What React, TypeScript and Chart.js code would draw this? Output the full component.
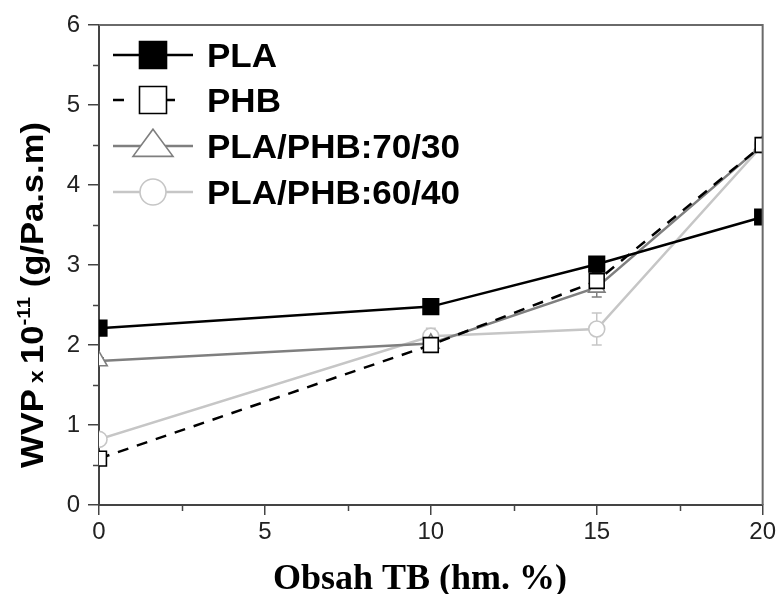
import React, { useEffect, useRef } from "react";
import { Chart, registerables } from "chart.js";

Chart.register(...registerables);

// ---- data ----
const xValues = [0, 10, 15, 20];
const plaValues = [2.21, 2.48, 3.01, 3.6];
const phbValues = [0.58, 2.0, 2.8, 4.5];
const blend7030Values = [1.8, 2.02, 2.72, 4.5];
const blend6040Values = [0.82, 2.11, 2.2, 4.5];
const plaErrors = [0.04, 0.05, 0.05, 0.05];
const phbErrors = [0.04, 0.05, 0.1, 0.05];
const blend7030Errors = [0.04, 0.08, 0.12, 0.05];
const blend6040Errors = [0.04, 0.1, 0.2, 0.05];
const seriesLabels = ["PLA", "PHB", "PLA/PHB:70/30", "PLA/PHB:60/40"];
const xTickValues = [0, 5, 10, 15, 20];
const xMinorTicks = [2.5, 7.5, 12.5, 17.5];
const yMinorTicks = [0.5, 1.5, 2.5, 3.5, 4.5, 5.5];
const xTitle = "Obsah TB (hm. %)";

const colors = ["#000000", "#000000", "#7f7f7f", "#c6c6c6"];
const dashes: number[][] = [[], [11, 9], [], []];
const pointStyles = ["rect", "rect", "triangle", "circle"];
const pointFills = ["#000000", "#ffffff", "#ffffff", "#ffffff"];
const pointRadii = [11, 10.5, 9.5, 8];
const errorSets = [plaErrors, phbErrors, blend7030Errors, blend6040Errors];
const valueSets = [plaValues, phbValues, blend7030Values, blend6040Values];

function drawMarker(ctx: CanvasRenderingContext2D, style: string, cx: number, cy: number, s: number, fill: string, stroke: string) {
  ctx.save();
  ctx.fillStyle = fill;
  ctx.strokeStyle = stroke;
  ctx.lineWidth = 1.6;
  ctx.setLineDash([]);
  ctx.beginPath();
  if (style === "rect") {
    ctx.rect(cx - s, cy - s, 2 * s, 2 * s);
  } else if (style === "triangle") {
    ctx.moveTo(cx, cy - s * 1.05);
    ctx.lineTo(cx + s * 1.25, cy + s * 0.65);
    ctx.lineTo(cx - s * 1.25, cy + s * 0.65);
    ctx.closePath();
  } else {
    ctx.arc(cx, cy, s, 0, Math.PI * 2);
  }
  ctx.fill();
  ctx.stroke();
  ctx.restore();
}

const decorPlugin = {
  id: "decor",
  beforeDatasetsDraw(chart: any) {
    const { ctx, chartArea } = chart;
    const xs = chart.scales.x;
    const ys = chart.scales.y;
    ctx.save();
    ctx.beginPath();
    ctx.rect(chartArea.left, chartArea.top, chartArea.right - chartArea.left, chartArea.bottom - chartArea.top);
    ctx.clip();
    errorSets.forEach((errs, i) => {
      ctx.strokeStyle = colors[i];
      ctx.lineWidth = 1.5;
      ctx.setLineDash([]);
      errs.forEach((e, j) => {
        const px = xs.getPixelForValue(xValues[j]);
        const top = ys.getPixelForValue(valueSets[i][j] + e);
        const bot = ys.getPixelForValue(valueSets[i][j] - e);
        ctx.beginPath();
        ctx.moveTo(px, top);
        ctx.lineTo(px, bot);
        ctx.moveTo(px - 5, top);
        ctx.lineTo(px + 5, top);
        ctx.moveTo(px - 5, bot);
        ctx.lineTo(px + 5, bot);
        ctx.stroke();
      });
    });
    ctx.restore();
  },
  afterDraw(chart: any) {
    const { ctx, chartArea } = chart;
    const xs = chart.scales.x;
    const ys = chart.scales.y;
    ctx.save();
    // top and right frame
    ctx.strokeStyle = "#6a6a6a";
    ctx.lineWidth = 2;
    ctx.beginPath();
    ctx.moveTo(chartArea.left, chartArea.top);
    ctx.lineTo(chartArea.right, chartArea.top);
    ctx.lineTo(chartArea.right, chartArea.bottom);
    ctx.stroke();
    // minor ticks
    ctx.strokeStyle = "#444";
    ctx.lineWidth = 1.5;
    ctx.beginPath();
    xMinorTicks.forEach((v) => {
      const px = Math.round(xs.getPixelForValue(v)) + 0.5;
      ctx.moveTo(px, chartArea.bottom);
      ctx.lineTo(px, chartArea.bottom + 6);
    });
    yMinorTicks.forEach((v) => {
      const py = Math.round(ys.getPixelForValue(v)) + 0.5;
      ctx.moveTo(chartArea.left, py);
      ctx.lineTo(chartArea.left - 6, py);
    });
    ctx.stroke();

    // legend
    const rows = [55, 100, 146, 192];
    ctx.font = "bold 33px 'Liberation Sans', Arial, sans-serif";
    const longest = ctx.measureText(seriesLabels[2]).width;
    const tScale = 253 / longest;
    seriesLabels.forEach((label, i) => {
      const cy = rows[i];
      ctx.strokeStyle = colors[i];
      ctx.lineWidth = 2.5;
      ctx.setLineDash([]);
      ctx.beginPath();
      if (i === 1) {
        ctx.moveTo(113, cy);
        ctx.lineTo(124, cy);
        ctx.moveTo(140, cy);
        ctx.lineTo(175, cy);
      } else {
        ctx.moveTo(113, cy);
        ctx.lineTo(193, cy);
      }
      ctx.stroke();
      const ms = pointStyles[i] === "rect" ? 13.5 : pointStyles[i] === "triangle" ? 16 : 13;
      drawMarker(ctx, pointStyles[i], 153, cy, ms, pointFills[i], colors[i]);
      ctx.save();
      ctx.translate(207, cy + 11.7);
      ctx.scale(tScale, 1);
      ctx.fillStyle = "#000";
      ctx.textAlign = "left";
      ctx.textBaseline = "alphabetic";
      ctx.fillText(label, 0, 0);
      ctx.restore();
    });

    // x title
    ctx.fillStyle = "#000";
    ctx.font = "bold 36px 'Liberation Serif', 'Times New Roman', serif";
    ctx.textAlign = "center";
    ctx.textBaseline = "alphabetic";
    ctx.fillText(xTitle, 420, 589);

    // y title (rotated, with superscript)
    const big = "bold 32px 'Liberation Sans', Arial, sans-serif";
    const mid = "bold 21px 'Liberation Sans', Arial, sans-serif";
    const sup = "bold 19px 'Liberation Sans', Arial, sans-serif";
    const segs: { t: string; f: string; dy: number }[] = [
      { t: "WVP", f: big, dy: 0 },
      { t: " x ", f: mid, dy: 0 },
      { t: "10", f: big, dy: 0 },
      { t: "-11", f: sup, dy: -13 },
      { t: " (g/Pa.s.m)", f: big, dy: 0 },
    ];
    let total = 0;
    const widths = segs.map((s) => {
      ctx.font = s.f;
      const w = ctx.measureText(s.t).width;
      total += w;
      return w;
    });
    const target = 346;
    const sc = target / total;
    ctx.save();
    ctx.translate(43, 295);
    ctx.rotate(-Math.PI / 2);
    ctx.scale(sc, 1);
    ctx.textAlign = "left";
    let xpos = -total / 2;
    segs.forEach((s, i) => {
      ctx.font = s.f;
      ctx.fillText(s.t, xpos, s.dy);
      xpos += widths[i];
    });
    ctx.restore();
    ctx.restore();
  },
};

export default function App() {
  const canvasRef = useRef<HTMLCanvasElement | null>(null);

  useEffect(() => {
    const canvas = canvasRef.current;
    if (!canvas) return;
    const datasets = seriesLabels.map((label, i) => ({
      label,
      data: xValues.map((x, j) => ({ x, y: valueSets[i][j] })),
      borderColor: colors[i],
      backgroundColor: pointFills[i],
      borderWidth: 2.5,
      borderDash: dashes[i],
      pointStyle: pointStyles[i],
      pointRadius: pointRadii[i],
      pointBackgroundColor: pointFills[i],
      pointBorderColor: colors[i],
      pointBorderWidth: 1.6,
      tension: 0,
      fill: false,
    }));
    const chart = new Chart(canvas, {
      type: "line",
      data: { datasets },
      options: {
        animation: false,
        responsive: true,
        maintainAspectRatio: false,
        layout: { padding: { top: 25, right: 16, left: 0, bottom: 0 } },
        plugins: { legend: { display: false }, tooltip: { enabled: false } },
        events: [],
        scales: {
          x: {
            type: "linear",
            min: 0,
            max: 20,
            afterFit: (s: any) => {
              s.height = 89;
            },
            afterBuildTicks: (s: any) => {
              s.ticks = xTickValues.map((v) => ({ value: v }));
            },
            ticks: {
              color: "#222",
              font: { family: "'Liberation Sans', Arial, sans-serif", size: 24 },
              padding: 3,
              maxRotation: 0,
            },
            grid: { drawOnChartArea: false, drawTicks: true, tickLength: 10, color: "#444", lineWidth: 1.5 },
            border: { display: true, color: "#444", width: 2 },
          },
          y: {
            type: "linear",
            min: 0,
            max: 6,
            afterFit: (s: any) => {
              s.width = 99;
            },
            ticks: {
              stepSize: 1,
              color: "#222",
              font: { family: "'Liberation Sans', Arial, sans-serif", size: 24 },
              padding: 8,
            },
            grid: { drawOnChartArea: false, drawTicks: true, tickLength: 11, color: "#444", lineWidth: 1.5 },
            border: { display: true, color: "#444", width: 2 },
          },
        },
      },
      plugins: [decorPlugin],
    } as any);
    return () => chart.destroy();
  }, []);

  return (
    <div style={{ position: "absolute", left: 0, top: 0, width: 779, height: 594, background: "#fff" }}>
      <canvas ref={canvasRef} />
    </div>
  );
}
